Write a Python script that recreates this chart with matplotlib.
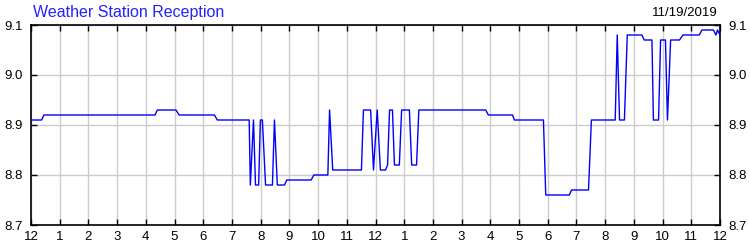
import matplotlib
matplotlib.use("Agg")
import matplotlib.pyplot as plt

plt.rcParams['font.family'] = ['Liberation Sans', 'DejaVu Sans']

# hours since midnight and signal level (vertices of the trace)
hours = [0, 0.37, 0.45, 4.32, 4.40, 5.05, 5.16, 6.39, 6.49, 7.60, 7.64, 7.75,
         7.82, 7.93, 7.99, 8.06, 8.17, 8.41, 8.48, 8.58, 8.83, 8.91, 9.76, 9.85,
         10.34, 10.40, 10.51, 11.51, 11.58, 11.83, 11.93, 12.06, 12.17, 12.35,
         12.42, 12.49, 12.59, 12.66, 12.83, 12.91, 13.18, 13.26, 13.43, 13.51,
         15.84, 15.93, 16.77, 16.84, 17.85, 17.93, 18.75, 18.83, 19.42, 19.52,
         20.35, 20.42, 20.50, 20.67, 20.77, 21.28, 21.36, 21.63, 21.68, 21.86,
         21.93, 22.10, 22.17, 22.28, 22.59, 22.71, 23.28, 23.37, 23.77, 23.86,
         23.91, 24.0]
level = [8.91, 8.91, 8.92, 8.92, 8.93, 8.93, 8.92, 8.92, 8.91, 8.91, 8.78, 8.91,
         8.78, 8.78, 8.91, 8.91, 8.78, 8.78, 8.91, 8.78, 8.78, 8.79, 8.79, 8.80,
         8.80, 8.93, 8.81, 8.81, 8.93, 8.93, 8.81, 8.93, 8.81, 8.81,
         8.82, 8.93, 8.93, 8.82, 8.82, 8.93, 8.93, 8.82, 8.82, 8.93,
         8.93, 8.92, 8.92, 8.91, 8.91, 8.76, 8.76, 8.77, 8.77, 8.91,
         8.91, 9.08, 8.91, 8.91, 9.08, 9.08, 9.07, 9.07, 8.91, 8.91,
         9.07, 9.07, 8.91, 9.07, 9.07, 9.08, 9.08, 9.09, 9.09, 9.08,
         9.09, 9.08]

hour_ticks = list(range(25))
hour_labels = [str(h % 12 if h % 12 else 12) for h in hour_ticks]
y_ticks = [8.7, 8.8, 8.9, 9.0, 9.1]
title = "Weather Station Reception"
date = "11/19/2019"

fig = plt.figure(figsize=(7.5, 2.5), dpi=100)
ax = fig.add_axes([31/750, 25/250, 689/750, 200/250])

ax.plot(hours, level, color='#0000ff', lw=1.0, zorder=3)

ax.set_xlim(0, 24)
ax.set_ylim(8.7, 9.1)
ax.set_xticks(hour_ticks)
ax.set_xticklabels(hour_labels)
ax.set_yticks(y_ticks)
ax.set_yticklabels(["%.1f" % v for v in y_ticks])
ax.grid(True, color='#cccccc', lw=1.0)
ax.tick_params(direction='in', length=4, width=1, top=True, right=True,
               labelright=True, labelsize=9.5, colors='black', pad=4)
ax.tick_params(axis='y', pad=6)
for s in ax.spines.values():
    s.set_linewidth(1.2)

fig.text(33/750, 1 - 12/250, title, color='#2222ff', fontsize=11.5, va='center', ha='left')
fig.text(718/750, 1 - 13/250, date, color='black', fontsize=9.5, va='center', ha='right')

fig.savefig('out.png', dpi=100)
